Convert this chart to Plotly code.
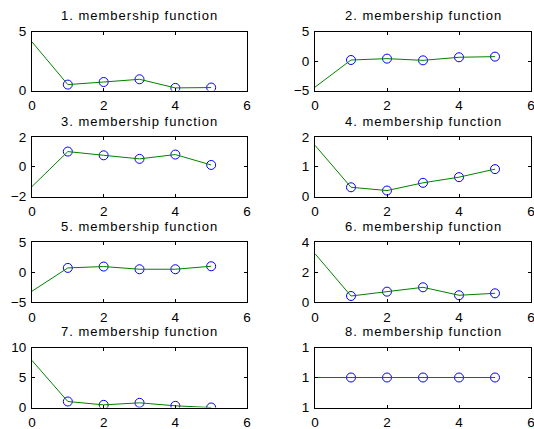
import plotly.graph_objects as go

# Membership-function parameters for the eight rules (x = 0 .. 5)
x_vals = [0, 1, 2, 3, 4, 5]

mf1 = [4.12, 0.50, 0.72, 0.95, 0.22, 0.25]
mf2 = [-4.43, 0.17, 0.40, 0.11, 0.63, 0.74]
mf3 = [-1.33, 1.02, 0.77, 0.53, 0.82, 0.12]
mf4 = [1.72, 0.31, 0.20, 0.46, 0.65, 0.92]
mf5 = [-3.15, 0.73, 0.96, 0.51, 0.51, 1.01]
mf6 = [3.24, 0.42, 0.71, 1.00, 0.47, 0.60]
mf7 = [7.83, 1.00, 0.44, 0.78, 0.28, 0.00]
mf8 = [1.0, 1.0, 1.0, 1.0, 1.0, 1.0]

series = [mf1, mf2, mf3, mf4, mf5, mf6, mf7, mf8]
titles = [f"{i}. membership function" for i in range(1, 9)]

# y-axis limits and ticks per panel
y_ranges = [[0, 5], [-5, 5], [-2, 2], [0, 2], [-5, 5], [0, 4], [0, 10], [0.9999, 1.0001]]
y_ticks = [[0, 5], [-5, 0, 5], [-2, 0, 2], [0, 1, 2], [-5, 0, 5], [0, 2, 4], [0, 5, 10],
           [0.9999, 1.0, 1.0001]]
x_ticks = [0, 2, 4, 6]

W, H = 534, 429
col_px = [(32, 247), (315, 531)]
row_px = [(31.5, 90.5), (137, 196.5), (242.3, 302.3), (347.5, 407.5)]

family = "Liberation Sans, Arial, Helvetica, sans-serif"
tick_font = dict(family=family, size=13.5, color="black")
title_font = dict(family=family, size=13, color="black")

fig = go.Figure()
layout = {}
annotations = []

for k, ys in enumerate(series):
    r, c = divmod(k, 2)
    ax = "" if k == 0 else str(k + 1)
    x0, x1 = col_px[c]
    top, bot = row_px[r]
    xdom = [x0 / W, x1 / W]
    ydom = [1 - bot / H, 1 - top / H]

    fig.add_trace(go.Scatter(
        x=x_vals[1:], y=ys[1:], mode="markers",
        marker=dict(symbol="circle-open", size=9, color="blue", line=dict(width=1, color="blue")),
        xaxis="x" + ax, yaxis="y" + ax, showlegend=False, hoverinfo="skip"))
    fig.add_trace(go.Scatter(
        x=x_vals, y=ys, mode="lines",
        line=dict(color="rgb(0,128,0)", width=1),
        xaxis="x" + ax, yaxis="y" + ax, showlegend=False, hoverinfo="skip"))

    common = dict(showline=True, linecolor="black", linewidth=1, mirror="allticks",
                  ticks="inside", ticklen=3, tickcolor="black", tickwidth=1,
                  showgrid=False, zeroline=False, tickfont=tick_font,
                  fixedrange=True, automargin=False, ticklabeloverflow="allow",
                  ticklabelstandoff=2)
    layout["xaxis" + ax] = dict(domain=xdom, range=[0, 6], tickvals=x_ticks,
                                anchor="y" + ax, **common)
    layout["yaxis" + ax] = dict(domain=ydom, range=y_ranges[k], tickvals=y_ticks[k],
                                tickformat=".0f", anchor="x" + ax, **common)

    annotations.append(dict(
        text=f'<span style="letter-spacing:1px">{titles[k]}</span>',
        xref="paper", yref="paper",
        x=(xdom[0] + xdom[1]) / 2, y=1 - (top - 16) / H,
        xanchor="center", yanchor="middle", showarrow=False, font=title_font))

fig.update_layout(
    width=W, height=H, margin=dict(l=0, r=0, t=0, b=0, autoexpand=False),
    paper_bgcolor="white", plot_bgcolor="white",
    annotations=annotations, font=tick_font, **layout)

fig.write_html("out.html")
